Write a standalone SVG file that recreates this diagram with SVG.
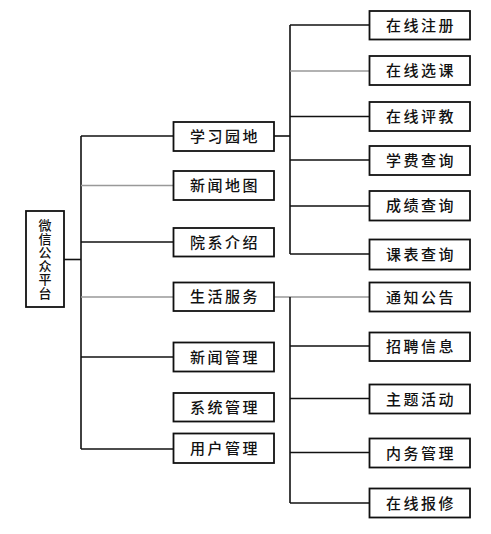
<svg xmlns="http://www.w3.org/2000/svg" width="491" height="534" viewBox="0 0 491 534">
<style>
.box{fill:#fff;stroke:#111;stroke-width:1.8}
.t{font-family:"Noto Sans CJK SC","Noto Sans",sans-serif;font-size:15px;font-weight:500;fill:#111;text-anchor:middle;letter-spacing:2.5px}
.rt{font-family:"Noto Sans CJK SC","Noto Sans",sans-serif;font-size:13px;font-weight:500;fill:#111;text-anchor:middle;writing-mode:vertical-rl;letter-spacing:0.5px}
.k{stroke:#111;stroke-width:1.6;fill:none}
.g{stroke:#999;stroke-width:1.4;fill:none}
</style>
<rect width="491" height="534" fill="#fff"/>
<g id="connectors">
<line class="k" x1="64" y1="259.5" x2="81" y2="259.5"/>
<line class="k" x1="81" y1="136" x2="81" y2="449"/>
<line class="k" x1="81" y1="136" x2="174" y2="136"/>
<line class="g" x1="81" y1="185.5" x2="174" y2="185.5"/>
<line class="k" x1="81" y1="242" x2="174" y2="242"/>
<line class="g" x1="81" y1="297" x2="174" y2="297"/>
<line class="k" x1="81" y1="357" x2="174" y2="357"/>
<line class="k" x1="81" y1="449" x2="174" y2="449"/>
<line class="k" x1="274" y1="136" x2="290" y2="136"/>
<line class="k" x1="290" y1="25" x2="290" y2="254"/>
<line class="k" x1="290" y1="25" x2="370" y2="25"/>
<line class="g" x1="290" y1="71" x2="370" y2="71"/>
<line class="k" x1="290" y1="116.5" x2="370" y2="116.5"/>
<line class="k" x1="290" y1="160" x2="370" y2="160"/>
<line class="k" x1="290" y1="206" x2="370" y2="206"/>
<line class="k" x1="290" y1="254" x2="370" y2="254"/>
<line class="g" x1="274" y1="297" x2="370" y2="297"/>
<line class="k" x1="290" y1="297" x2="290" y2="503"/>
<line class="k" x1="290" y1="346" x2="370" y2="346"/>
<line class="k" x1="290" y1="398.5" x2="370" y2="398.5"/>
<line class="k" x1="290" y1="452.5" x2="370" y2="452.5"/>
<line class="k" x1="290" y1="503" x2="370" y2="503"/>
</g>
<g id="root"><rect class="box" x="26" y="211" width="38" height="96"/>
<text class="rt" x="45" y="259.5">微信公众平台</text></g>
<g id="n-xxyd"><rect class="box" x="173.5" y="122" width="100.5" height="29"/><text class="t" x="225" y="142">学习园地</text></g>
<g id="n-xwdt"><rect class="box" x="173.5" y="171" width="100.5" height="29"/><text class="t" x="225" y="191">新闻地图</text></g>
<g id="n-yxjs"><rect class="box" x="173.5" y="228" width="100.5" height="28.5"/><text class="t" x="225" y="247.5">院系介绍</text></g>
<g id="n-shfw"><rect class="box" x="173.5" y="282.5" width="100.5" height="28.5"/><text class="t" x="225" y="302">生活服务</text></g>
<g id="n-xwgl"><rect class="box" x="173.5" y="342.5" width="100.5" height="29"/><text class="t" x="225" y="362.5">新闻管理</text></g>
<g id="n-xtgl"><rect class="box" x="173.5" y="393" width="100.5" height="28.5"/><text class="t" x="225" y="412.5">系统管理</text></g>
<g id="n-yhgl"><rect class="box" x="173.5" y="433.5" width="100.5" height="29.5"/><text class="t" x="225" y="453.5">用户管理</text></g>
<g id="n-zxzc"><rect class="box" x="369.5" y="11" width="100.5" height="28.5"/><text class="t" x="421" y="30.5">在线注册</text></g>
<g id="n-zxxk"><rect class="box" x="369.5" y="56" width="100.5" height="29"/><text class="t" x="421" y="76">在线选课</text></g>
<g id="n-zxpj"><rect class="box" x="369.5" y="102" width="100.5" height="29"/><text class="t" x="421" y="122">在线评教</text></g>
<g id="n-xfcx"><rect class="box" x="369.5" y="146" width="100.5" height="29"/><text class="t" x="421" y="166">学费查询</text></g>
<g id="n-cjcx"><rect class="box" x="369.5" y="191" width="100.5" height="29.5"/><text class="t" x="421" y="211">成绩查询</text></g>
<g id="n-kbcx"><rect class="box" x="369.5" y="239.5" width="100.5" height="30"/><text class="t" x="421" y="260">课表查询</text></g>
<g id="n-tzgg"><rect class="box" x="369.5" y="282.5" width="100.5" height="29"/><text class="t" x="421" y="302.5">通知公告</text></g>
<g id="n-zpxx"><rect class="box" x="369.5" y="332.5" width="100.5" height="28.5"/><text class="t" x="421" y="352">招聘信息</text></g>
<g id="n-ztfd"><rect class="box" x="369.5" y="384.5" width="100.5" height="29"/><text class="t" x="421" y="404.5">主题活动</text></g>
<g id="n-nwgl"><rect class="box" x="369.5" y="438.5" width="100.5" height="29"/><text class="t" x="421" y="458.5">内务管理</text></g>
<g id="n-zxbx"><rect class="box" x="369.5" y="488.5" width="100.5" height="29"/><text class="t" x="421" y="508.5">在线报修</text></g>
</svg>
